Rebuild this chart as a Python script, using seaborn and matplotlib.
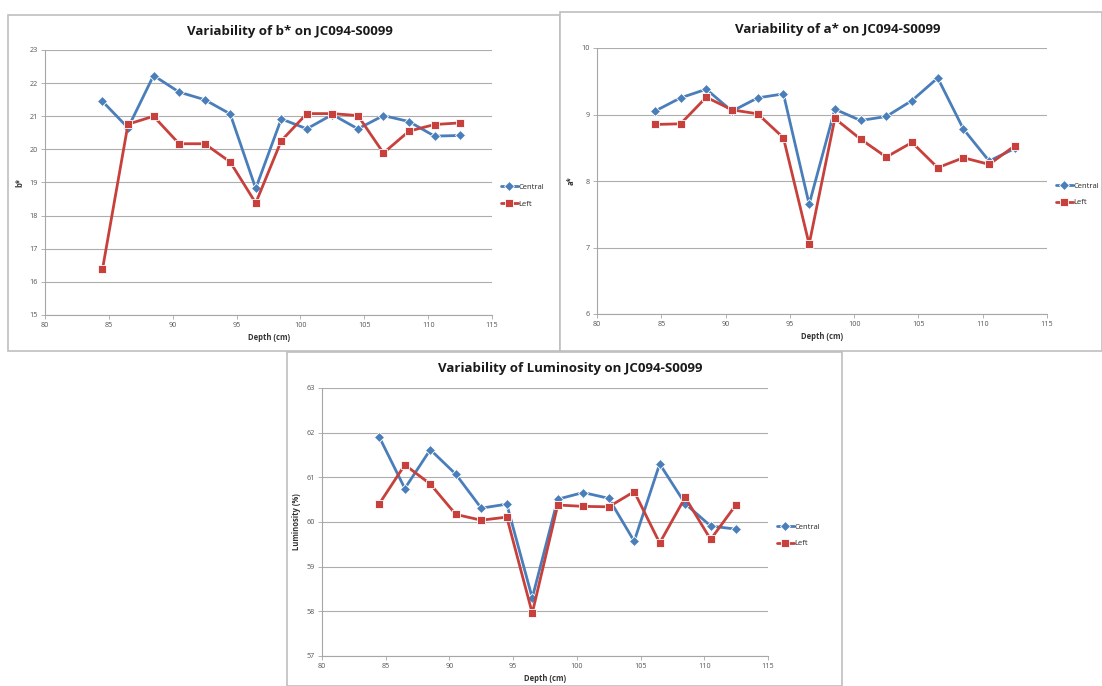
import numpy as np
import pandas as pd
import seaborn as sns
import matplotlib
matplotlib.use("Agg")
import matplotlib.pyplot as plt
from matplotlib.patches import Rectangle

# Sampling depths (cm)
depth = [84.5, 86.5, 88.5, 90.5, 92.5, 94.5, 96.5, 98.5, 100.5, 102.5,
         104.5, 106.5, 108.5, 110.5, 112.5]

# b* measurements
b_central = [21.45, 20.65, 22.23, 21.73, 21.50, 21.07, 18.82, 20.92, 20.62,
             21.05, 20.62, 21.02, 20.84, 20.40, 20.42]
b_left = [16.38, 20.76, 21.00, 20.17, 20.17, 19.62, 18.38, 20.26, 21.08,
          21.08, 21.02, 19.89, 20.55, 20.75, 20.80]

# a* measurements
a_central = [9.05, 9.25, 9.38, 9.05, 9.25, 9.31, 7.65, 9.08, 8.91, 8.97,
             9.21, 9.55, 8.78, 8.30, 8.49]
a_left = [8.85, 8.86, 9.26, 9.07, 9.01, 8.65, 7.05, 8.94, 8.63, 8.36,
          8.58, 8.20, 8.35, 8.25, 8.53]

# Luminosity measurements (%)
l_central = [61.90, 60.75, 61.62, 61.07, 60.31, 60.40, 58.30, 60.51, 60.66,
             60.53, 59.57, 61.30, 60.41, 59.91, 59.84]
l_left = [60.41, 61.28, 60.85, 60.17, 60.04, 60.11, 57.96, 60.38, 60.35,
          60.34, 60.68, 59.53, 60.55, 59.61, 60.39]

series_names = ["Central", "Left"]

sns.set_theme(style="white")
plt.rcParams["font.family"] = ["Open Sans", "DejaVu Sans"]

W, H = 1102, 686
fig = plt.figure(figsize=(W / 100, H / 100), dpi=100)
fig.patch.set_facecolor("white")

palette = {"Central": "#4A7EBB", "Left": "#C8403C"}
markers = {"Central": "D", "Left": "s"}


def px_rect(x0, y0, x1, y1):
    """Convert a pixel box (top-left origin) into figure fractions."""
    return [x0 / W, (H - y1) / H, (x1 - x0) / W, (y1 - y0) / H]


def chart_box(x0, y0, x1, y1):
    r = Rectangle((x0 / W, (H - y1) / H), (x1 - x0) / W, (y1 - y0) / H,
                  transform=fig.transFigure, facecolor="white",
                  edgecolor="#BFBFBF", linewidth=1.2, zorder=-5)
    fig.patches.append(r)


def draw_chart(rect, central, left, ylim, ylabel, title, title_xy):
    ax = fig.add_axes(px_rect(*rect))
    df = pd.DataFrame({
        "Depth": depth * 2,
        "Value": list(central) + list(left),
        "Series": [series_names[0]] * len(depth) + [series_names[1]] * len(depth),
    })
    sns.lineplot(data=df, x="Depth", y="Value", hue="Series", style="Series",
                 palette=palette, markers=markers, dashes=False, sort=False,
                 linewidth=2.0, markersize=5.5, markeredgewidth=0.6, ax=ax)
    ax.set_xlim(80, 115)
    ax.set_ylim(*ylim)
    ax.set_xticks(np.arange(80, 116, 5))
    ax.set_yticks(np.arange(ylim[0], ylim[1] + 1, 1))
    ax.yaxis.grid(True, color="#ADADAD", linewidth=0.8)
    ax.xaxis.grid(False)
    for s in ["top", "right"]:
        ax.spines[s].set_visible(False)
    for s in ["left", "bottom"]:
        ax.spines[s].set_color("#A6A6A6")
        ax.spines[s].set_linewidth(0.8)
    ax.tick_params(axis="both", labelsize=5.2, colors="#A6A6A6",
                   labelcolor="#555555", length=3, width=0.6, direction="out")
    ax.tick_params(axis="x", bottom=True, pad=2)
    ax.tick_params(axis="y", left=True, pad=2)
    ax.set_xlabel("Depth (cm)", fontsize=5.5, fontweight="bold", color="#333333", labelpad=3)
    ax.set_ylabel(ylabel, fontsize=5.5, fontweight="bold", color="#333333", labelpad=4)
    ax.set_facecolor("none")
    handles, labels = ax.get_legend_handles_labels()
    ax.legend(handles, labels, loc="center left", bbox_to_anchor=(1.01, 0.45),
              frameon=False, fontsize=5.5, handlelength=2.2, handletextpad=0.1,
              labelspacing=1.2, borderaxespad=0.2)
    fig.text(title_xy[0] / W, 1 - title_xy[1] / H, title, ha="center", va="center",
             fontsize=9.5, fontweight="bold", color="#1a1a1a")
    return ax


chart_box(8, 15, 560, 351)
chart_box(560, 12, 1102, 351)
chart_box(287, 352, 842, 686)

draw_chart((45, 50, 492, 315), b_central, b_left, (15, 23), "b*",
           "Variability of b* on JC094-S0099", (290, 32))
draw_chart((597, 48, 1047, 314), a_central, a_left, (6, 10), "a*",
           "Variability of a* on JC094-S0099", (838, 29))
draw_chart((322, 388, 768, 656), l_central, l_left, (57, 63), "Luminosity (%)",
           "Variability of Luminosity on JC094-S0099", (570, 369))

fig.savefig("out.png", dpi=100, facecolor="white")
